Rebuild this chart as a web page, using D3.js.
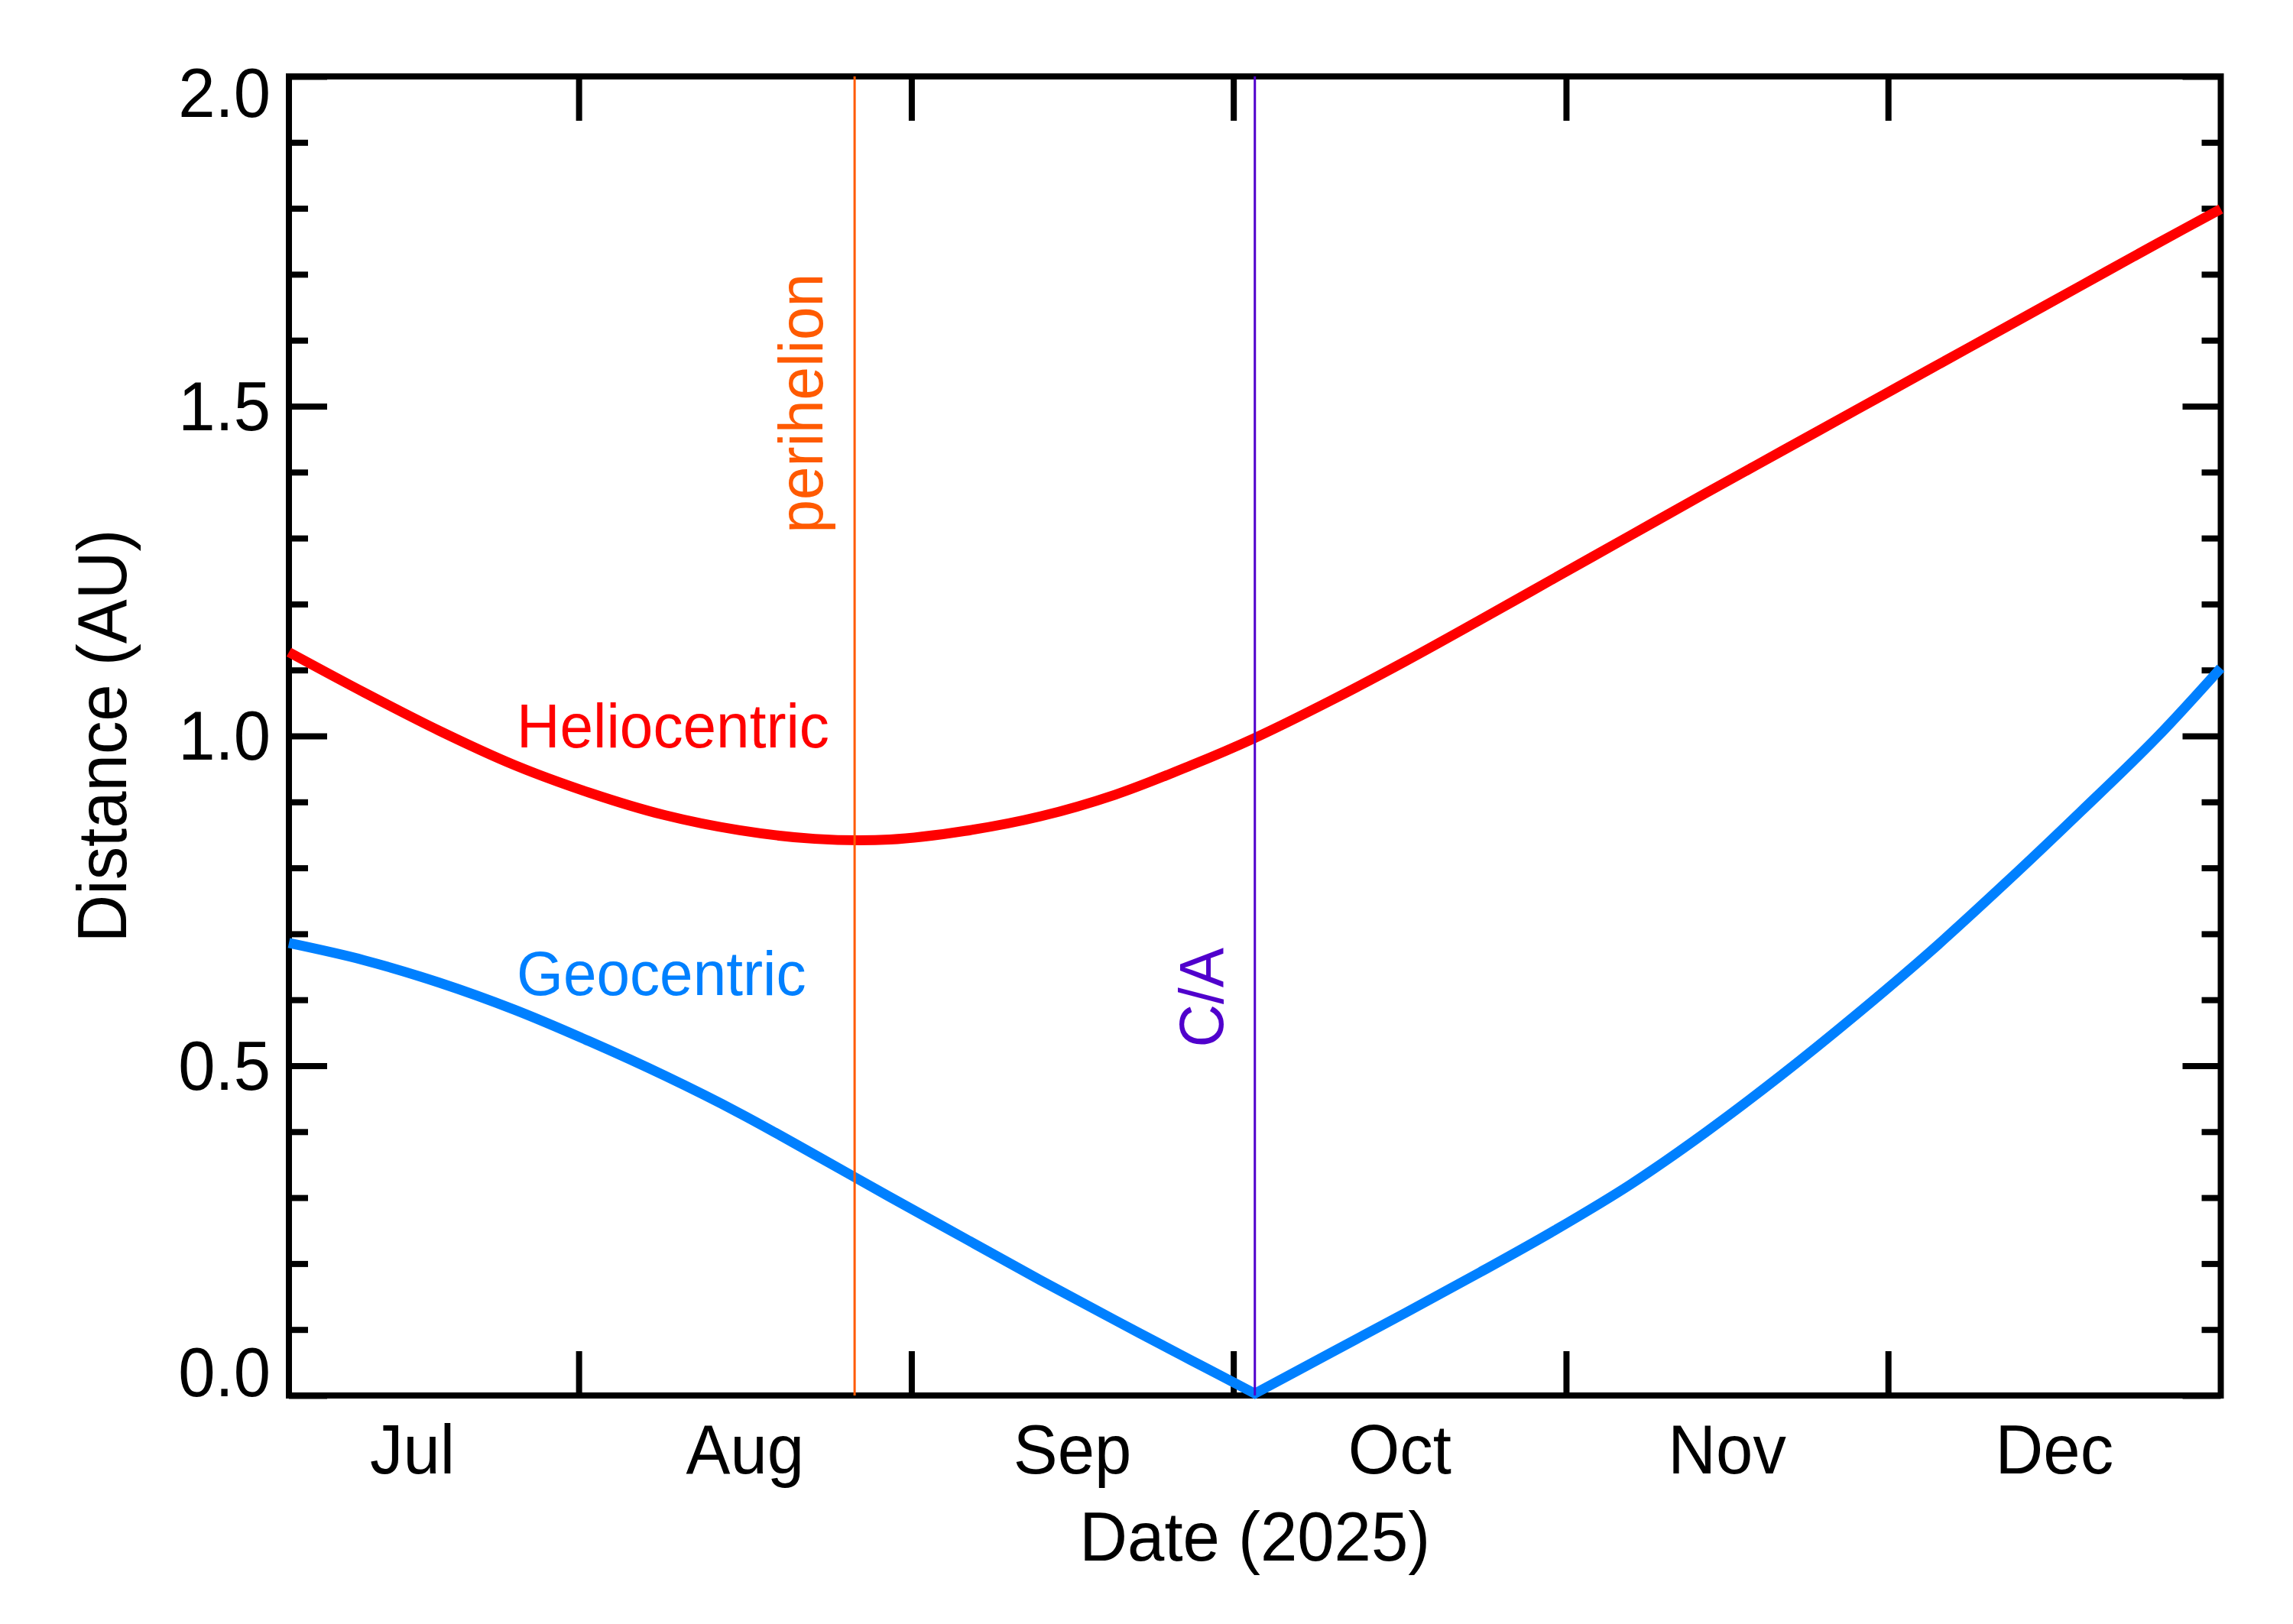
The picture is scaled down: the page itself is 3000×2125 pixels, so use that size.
<!DOCTYPE html>
<html>
<head>
<meta charset="utf-8">
<script src="https://cdn.jsdelivr.net/npm/d3@7"></script>
<style>
  html, body { margin: 0; padding: 0; background: #fff; }
  svg { display: block; }
  text { font-family: "Liberation Sans", Arial, Helvetica, sans-serif; }
</style>
</head>
<body>
<svg id="chart" width="3000" height="2125"></svg>
<script>
// ---------------- data ----------------
const dates = ["2025-07-05","2025-07-12","2025-07-19","2025-07-26","2025-08-02","2025-08-09",
  "2025-08-16","2025-08-23","2025-08-30","2025-09-06","2025-09-13","2025-09-20","2025-09-27",
  "2025-10-03","2025-10-10","2025-10-17","2025-10-24","2025-10-31","2025-11-07","2025-11-14",
  "2025-11-21","2025-11-28","2025-12-05","2025-12-12","2025-12-19","2025-12-26","2026-01-01"];
const heliocentric = [1.127,1.066,1.008,0.956,0.914,0.880,0.857,0.844,0.843,0.856,0.878,0.911,
  0.955,0.997,1.053,1.113,1.176,1.240,1.304,1.368,1.431,1.494,1.557,1.620,1.683,1.746,1.799];
const geocentric = [0.686,0.660,0.626,0.585,0.537,0.485,0.428,0.365,0.301,0.238,0.175,0.114,
  0.054,0.003,0.064,0.125,0.187,0.251,0.320,0.399,0.485,0.577,0.674,0.778,0.886,0.997,1.103];
const dateDomain = ["2025-07-05","2026-01-01"];
const closeApproachDate = "2025-10-03";
const perihelionDate = "2025-08-26T17:00:00Z";
const yMajorTicks = [0, 0.5, 1.0, 1.5, 2.0];
const yTickLabels = ["0.0", "0.5", "1.0", "1.5", "2.0"];
const yMinorTicks = [0.1,0.2,0.3,0.4,0.6,0.7,0.8,0.9,1.1,1.2,1.3,1.4,1.6,1.7,1.8,1.9];
const monthLabels = ["Jul","Aug","Sep","Oct","Nov","Dec"];
const seriesNames = ["Heliocentric", "Geocentric"];
const xTitle = "Date (2025)";
const yTitle = "Distance (AU)";

// ---------------- layout ----------------
const L = 378, R = 2905.5, T = 100, B = 1826;
const FS = 91, FS2 = 82, SX = 0.955;
const colRed = "#ff0000", colBlue = "#0080ff", colOrange = "#ff5a00", colPurple = "#5000cc";

const svg = d3.select("#chart");
const x = d3.scaleUtc().domain(dateDomain.map(d => new Date(d))).range([L, R]);
const y = d3.scaleLinear().domain([0, 2]).range([B, T]);

function txt(g, s, px, py, opts) {
  opts = opts || {};
  const rot = opts.rotate ? ` rotate(${opts.rotate})` : "";
  return g.append("text")
    .attr("transform", `translate(${px},${py})${rot} scale(${SX},1)`)
    .attr("text-anchor", opts.anchor || "start")
    .attr("font-size", opts.size || FS)
    .attr("fill", opts.fill || "#000")
    .text(s);
}

// ---------------- axes (ticks) ----------------
function styleAxis(g) {
  g.select(".domain").remove();
  g.selectAll(".tick line").attr("stroke", "#000").attr("stroke-width", 8);
  g.selectAll(".tick text").remove();
}
svg.append("g").attr("transform", `translate(${L},0)`)
  .call(d3.axisLeft(y).tickValues(yMajorTicks).tickSize(-50)).call(styleAxis);
svg.append("g").attr("transform", `translate(${L},0)`)
  .call(d3.axisLeft(y).tickValues(yMinorTicks).tickSize(-25)).call(styleAxis);
svg.append("g").attr("transform", `translate(${R},0)`)
  .call(d3.axisRight(y).tickValues(yMajorTicks).tickSize(-50)).call(styleAxis);
svg.append("g").attr("transform", `translate(${R},0)`)
  .call(d3.axisRight(y).tickValues(yMinorTicks).tickSize(-25)).call(styleAxis);

const monthStarts = d3.utcMonth.range(x.domain()[0], x.domain()[1]);
svg.append("g").attr("transform", `translate(0,${B})`)
  .call(d3.axisBottom(x).tickValues(monthStarts).tickSize(-58)).call(styleAxis);
svg.append("g").attr("transform", `translate(0,${T})`)
  .call(d3.axisTop(x).tickValues(monthStarts).tickSize(-58)).call(styleAxis);

// frame
svg.append("rect").attr("x", L).attr("y", T).attr("width", R - L).attr("height", B - T)
  .attr("fill", "none").attr("stroke", "#000").attr("stroke-width", 8);

// y tick labels
const lab = svg.append("g");
yMajorTicks.forEach((v, i) => {
  let by = y(v) + 31;
  if (v === 2) by = y(v) + 53;
  if (v === 0) by = y(v) + 1;
  txt(lab, yTickLabels[i], 354, by, { anchor: "end" });
});

// month labels at mid-month
const firstMonth = d3.utcMonth.floor(x.domain()[0]);
monthLabels.forEach((m, i) => {
  const s = d3.utcMonth.offset(firstMonth, i), e = d3.utcMonth.offset(firstMonth, i + 1);
  const mid = new Date((s.getTime() + e.getTime()) / 2);
  txt(lab, m, x(mid), 1928, { anchor: "middle" });
});

// axis titles
txt(lab, xTitle, (L + R) / 2, 2042, { anchor: "middle" });
txt(lab, yTitle, 165, (T + B) / 2, { anchor: "middle", rotate: -90 });

// ---------------- series ----------------
const pts = dates.map((d, i) => ({ t: new Date(d), h: heliocentric[i], g: geocentric[i] }));
const caT = new Date(closeApproachDate);

const smooth = d3.curveCatmullRom.alpha(0.5);
const lineH = d3.line().x(d => x(d.t)).y(d => y(d.h)).curve(smooth);
const lineG = d3.line().x(d => x(d.t)).y(d => y(d.g)).curve(smooth);

svg.append("path").attr("d", lineH(pts)).attr("fill", "none")
  .attr("stroke", colRed).attr("stroke-width", 13);

const before = pts.filter(d => d.t <= caT), after = pts.filter(d => d.t >= caT);
const gPath = lineG(before) + lineG(after).replace(/^M/, "L");
svg.append("path").attr("d", gPath).attr("fill", "none")
  .attr("stroke", colBlue).attr("stroke-width", 13).attr("stroke-linejoin", "miter");

// ---------------- event markers ----------------
const periT = new Date(perihelionDate);
svg.append("line").attr("x1", x(periT)).attr("x2", x(periT)).attr("y1", T).attr("y2", B)
  .attr("stroke", colOrange).attr("stroke-width", 3);
svg.append("line").attr("x1", x(caT)).attr("x2", x(caT)).attr("y1", T).attr("y2", B)
  .attr("stroke", colPurple).attr("stroke-width", 3);

txt(lab, "perihelion", x(periT) - 42, 358, { anchor: "end", rotate: -90, size: FS2, fill: colOrange });
txt(lab, "C/A", x(caT) - 42, 1240, { anchor: "end", rotate: -90, size: FS2, fill: colPurple });

// series labels
txt(lab, seriesNames[0], 676, 978, { size: FS2, fill: colRed });
txt(lab, seriesNames[1], 676, 1302, { size: FS2, fill: colBlue });
</script>
</body>
</html>
